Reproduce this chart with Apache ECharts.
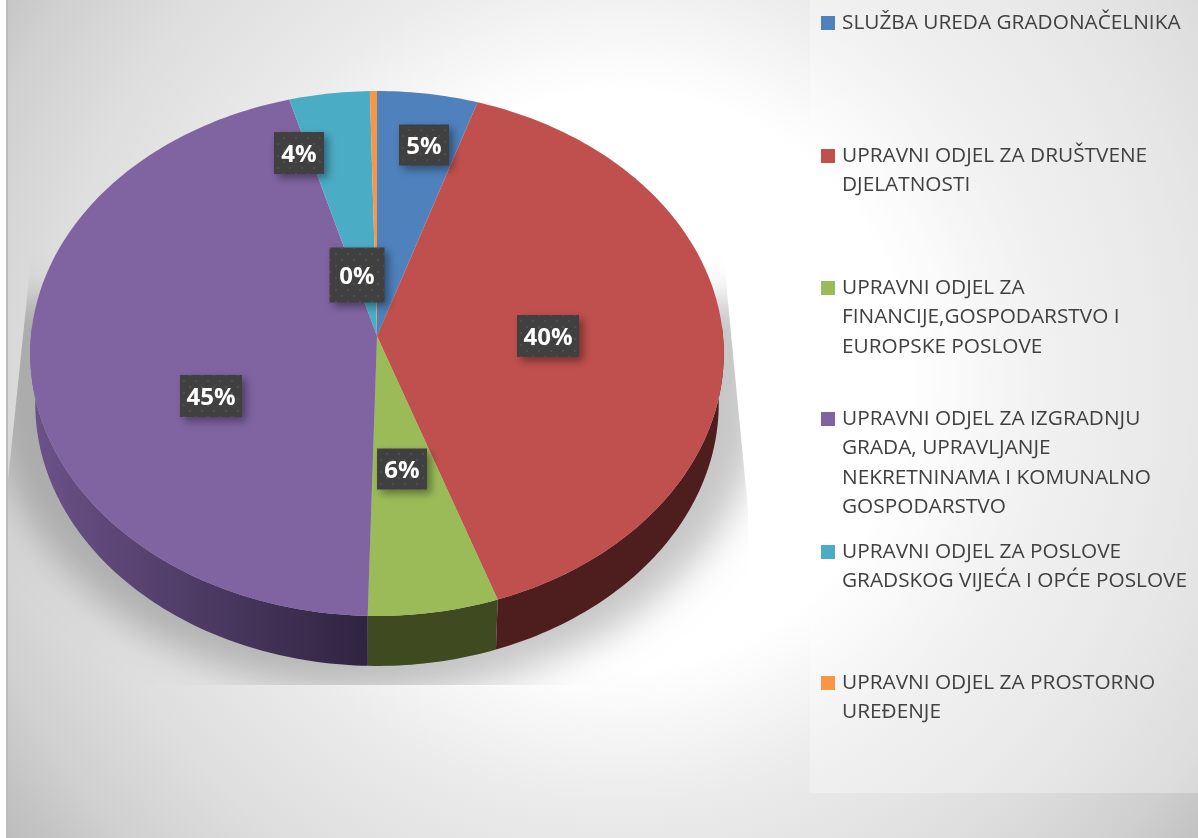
<!DOCTYPE html>
<html>
<head>
<meta charset="utf-8">
<title>Pie</title>
<script src="https://cdn.jsdelivr.net/npm/echarts@6/dist/echarts.min.js"></script>
<style>
html, body { margin: 0; padding: 0; background: #fff; }
#main { width: 1198px; height: 838px; }
</style>
</head>
<body>
<div id="main"></div>
<script>
// values, in percent
var categories = [
    'SLUŽBA UREDA GRADONAČELNIKA',
    'UPRAVNI ODJEL ZA DRUŠTVENE\nDJELATNOSTI',
    'UPRAVNI ODJEL ZA\nFINANCIJE,GOSPODARSTVO I\nEUROPSKE POSLOVE',
    'UPRAVNI ODJEL ZA IZGRADNJU\nGRADA, UPRAVLJANJE\nNEKRETNINAMA I KOMUNALNO\nGOSPODARSTVO',
    'UPRAVNI ODJEL ZA POSLOVE\nGRADSKOG VIJEĆA I OPĆE POSLOVE',
    'UPRAVNI ODJEL ZA PROSTORNO\nUREĐENJE'
];
var shares = [5.0, 39.7, 5.7, 45.25, 4.0, 0.35];

var topColors = ['#4f81bd', '#c0504d', '#9bbb59', '#8064a2', '#4bacc6', '#f79646'];
var sideFrom = ['#2a4466', '#4e1e1e', '#3f4a20', '#6c5289', '#285c6a', '#84501f'];
var sideTo = ['#2a4466', '#4e1e1e', '#3f4a20', '#2f2440', '#285c6a', '#84501f'];

// label boxes and legend rows, by hand
var labelX = [424, 548, 402, 211, 299, 357];
var labelY = [145, 336, 469, 396, 153, 275];
var labelW = [50, 62, 50, 62, 50, 55];
var labelH = [41, 42, 41, 42, 42, 55];
var legendY = [23, 156, 288, 419, 552, 683];

var LINE = 29.4;

// tilted disc: a circle seen in perspective, apex at (377, 336)
var K = 1 / 15;
function project(deg, depth) {
    var a = deg * Math.PI / 180;
    var u = Math.sin(a), v = Math.cos(a);
    var w = 1 + K * v;
    var sx = depth ? 341 : 346;
    return [377 + sx * u / w, 336 + (depth || 0) - 261.3 * v / w];
}

function arc(from, to, depth) {
    var pts = [];
    var n = Math.max(2, Math.ceil(Math.abs(to - from)));
    for (var i = 0; i <= n; i++) {
        pts.push(project(from + (to - from) * i / n, depth));
    }
    return pts;
}

var starts = [];
shares.reduce(function (sum, v, i) {
    starts[i] = sum;
    return sum + v;
}, 0);

function renderSlice(idx) {
    return function (params, api) {
        var from = starts[idx] * 3.6;
        var to = from + api.value(0) * 3.6;
        var children = [];
        var sideA = Math.max(from, 88), sideB = Math.min(to, 272);
        if (sideB > sideA) {
            children.push({
                type: 'polygon',
                shape: { points: arc(sideA, sideB, 0).concat(arc(sideB, sideA, 50)) },
                style: {
                    fill: {
                        type: 'linear', x: 30, y: 0, x2: 367, y2: 0, global: true,
                        colorStops: [
                            { offset: 0, color: sideFrom[idx] },
                            { offset: 1, color: sideTo[idx] }
                        ]
                    }
                }
            });
        }
        children.push({
            type: 'polygon',
            shape: { points: [[377, 336]].concat(arc(from, to, 0)) },
            style: { fill: topColors[idx] }
        });
        return { type: 'group', children: children };
    };
}

// soft shadow under the disc: bowl shape, flat top so it fades out upwards
function renderShadow() {
    var off = 3000;
    var pts = [[377 + 385 - off, 300]];
    for (var d = 0; d <= 180; d += 3) {
        var a = d * Math.PI / 180;
        pts.push([377 + 385 * Math.cos(a) - off, 392 + 300 * Math.sin(a)]);
    }
    pts.push([377 - 385 - off, 300]);
    return {
        type: 'polygon',
        shape: { points: pts },
        style: {
            fill: '#000',
            shadowColor: 'rgba(0,0,0,0.22)',
            shadowBlur: 36,
            shadowOffsetX: off
        },
        clipPath: {
            type: 'polygon',
            shape: { points: [[33, 240], [8, 480], [8, 685], [748, 685], [748, 510], [722, 240]] }
        }
    };
}

var dots = document.createElement('canvas');
dots.width = 12;
dots.height = 12;
(function () {
    var c = dots.getContext('2d');
    c.fillStyle = '#404040';
    c.fillRect(0, 0, 12, 12);
    c.fillStyle = '#4e4e4e';
    c.fillRect(2, 2, 2, 2);
    c.fillRect(8, 8, 2, 2);
})();

function renderLabel(params, api) {
    var i = params.dataIndex;
    var w = labelW[i], h = labelH[i];
    return {
        type: 'group',
        x: labelX[i],
        y: labelY[i],
        children: [{
            type: 'rect',
            shape: { x: -w / 2, y: -h / 2, width: w, height: h },
            style: {
                fill: { image: dots, repeat: 'repeat' },
                shadowColor: 'rgba(0,0,0,0.4)',
                shadowBlur: 8,
                shadowOffsetX: 4,
                shadowOffsetY: 4
            }
        }, {
            type: 'text',
            style: {
                x: 0,
                y: 2,
                text: Math.round(api.value(0)) + '%',
                align: 'center',
                verticalAlign: 'middle',
                fill: '#fff',
                font: 'bold 24px "Open Sans"'
            }
        }]
    };
}

var sliceSeries = categories.map(function (name, i) {
    return {
        type: 'custom',
        name: name,
        coordinateSystem: 'none',
        silent: true,
        z: 3,
        itemStyle: { color: topColors[i] },
        data: [[shares[i]]],
        renderItem: renderSlice(i)
    };
});

// one legend per row: rows are unevenly spaced and the swatch sits on the first line
var legends = categories.map(function (name, i) {
    var lines = name.split('\n').length;
    return {
        data: [name],
        left: 821,
        top: legendY[i] - LINE * (2 * lines - 1) / 2,
        icon: 'rect',
        itemWidth: 14,
        itemHeight: 14,
        itemGap: 0,
        padding: 0,
        selectedMode: false,
        formatter: function (n) {
            // blank lines above keep the first real line level with the swatch
            return new Array(lines).join(' \n') + n;
        },
        textStyle: {
            color: '#404040',
            fontFamily: 'Open Sans',
            fontSize: 20.8,
            lineHeight: LINE,
            padding: [0, 0, 0, 2]
        }
    };
});

var chart = echarts.init(document.getElementById('main'));
chart.setOption({
    animation: false,
    backgroundColor: '#fff',
    legend: legends,
    graphic: [{
        type: 'rect',
        z: 0,
        shape: { x: 6, y: 0, width: 1192, height: 838 },
        style: {
            fill: {
                type: 'radial', x: 620, y: 380, r: 800, global: true,
                colorStops: [
                    { offset: 0, color: '#ffffff' },
                    { offset: 0.36, color: '#ffffff' },
                    { offset: 0.53, color: '#ebebeb' },
                    { offset: 0.71, color: '#dedede' },
                    { offset: 0.85, color: '#cfcfcf' },
                    { offset: 0.92, color: '#c2c2c2' },
                    { offset: 1, color: '#b8b8b8' }
                ]
            }
        }
    }, {
        type: 'rect',
        z: 0,
        shape: { x: 6, y: 0, width: 2, height: 838 },
        style: { fill: '#bdbdbd' }
    }, {
        type: 'rect',
        z: 0,
        shape: { x: 810, y: 0, width: 388, height: 793 },
        style: { fill: 'rgba(255,255,255,0.3)' }
    }],
    series: [{
        type: 'custom',
        coordinateSystem: 'none',
        silent: true,
        z: 1,
        data: [[0]],
        renderItem: renderShadow
    }].concat(sliceSeries, [{
        type: 'custom',
        coordinateSystem: 'none',
        silent: true,
        z: 5,
        data: shares.map(function (v) { return [v]; }),
        renderItem: renderLabel
    }])
});
</script>
</body>
</html>
